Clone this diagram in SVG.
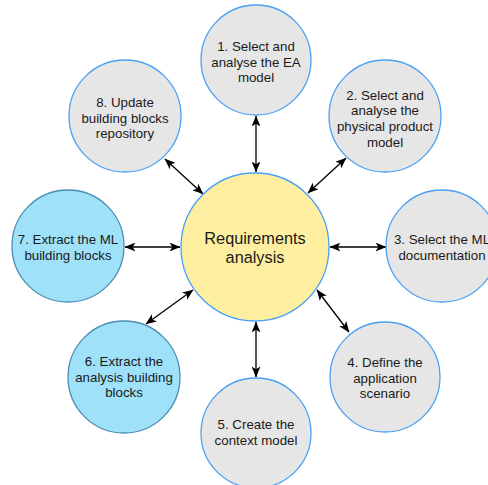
<svg xmlns="http://www.w3.org/2000/svg" width="488" height="485" viewBox="0 0 488 485">
<style>
.n{fill:#e6e6e6;stroke:#4aa0f5;stroke-width:1.3}
.b{fill:#9fe1f8;stroke:#4a8db3;stroke-width:1.3}
.c{fill:#fdef9f;stroke:#4aa0f5;stroke-width:1.3}
text{font-family:"Liberation Sans",Arial,sans-serif;font-size:13.3px;fill:#1a1a1a;text-anchor:middle}
.big{font-size:16.3px}
.e{stroke:#000;stroke-width:1.3;fill:none;marker-start:url(#ah);marker-end:url(#ah)}
</style>
<defs>
<marker id="ah" viewBox="0 0 10 8" refX="9.5" refY="4" markerWidth="11" markerHeight="9" markerUnits="userSpaceOnUse" orient="auto-start-reverse">
<path d="M0,0 L10,4 L0,8 L2.5,4 Z" fill="#000"/>
</marker>
</defs>
<rect width="488" height="485" fill="#fff"/>
<g id="connectors">
<line class="e" x1="256" y1="116" x2="256" y2="172"/>
<line class="e" x1="256" y1="322" x2="256" y2="377"/>
<line class="e" x1="125" y1="247" x2="180" y2="247"/>
<line class="e" x1="330" y1="247" x2="386" y2="247"/>
<line class="e" x1="165" y1="159" x2="203" y2="194"/>
<line class="e" x1="346" y1="158" x2="308" y2="193"/>
<line class="e" x1="317" y1="290" x2="349" y2="332"/>
<line class="e" x1="146" y1="324" x2="193" y2="290"/>
</g>
<g id="center">
<circle class="c" cx="255" cy="247" r="74"/>
<text class="big" x="255" y="244">Requirements</text>
<text class="big" x="255" y="263">analysis</text>
</g>
<g id="node1">
<circle class="n" cx="256" cy="60" r="55"/>
<text x="256" y="51">1. Select and</text>
<text x="256" y="66.5">analyse the EA</text>
<text x="256" y="82">model</text>
</g>
<g id="node2">
<circle class="n" cx="385" cy="116" r="56"/>
<text x="385" y="99.5">2. Select and</text>
<text x="385" y="115">analyse the</text>
<text x="385" y="131">physical product</text>
<text x="385" y="146.5">model</text>
</g>
<g id="node3">
<circle class="n" cx="442" cy="246" r="56"/>
<text x="442" y="244">3. Select the ML</text>
<text x="442" y="259.5">documentation</text>
</g>
<g id="node4">
<circle class="n" cx="385" cy="377" r="55"/>
<text x="385" y="367">4. Define the</text>
<text x="385" y="382.5">application</text>
<text x="385" y="398">scenario</text>
</g>
<g id="node5">
<circle class="n" cx="256" cy="433" r="55"/>
<text x="256" y="429">5. Create the</text>
<text x="256" y="444.5">context model</text>
</g>
<g id="node6">
<circle class="b" cx="124" cy="377" r="56"/>
<text x="124" y="366">6. Extract the</text>
<text x="124" y="381.5">analysis building</text>
<text x="124" y="397">blocks</text>
</g>
<g id="node7">
<circle class="b" cx="68" cy="246" r="56"/>
<text x="68" y="244">7. Extract the ML</text>
<text x="68" y="259.5">building blocks</text>
</g>
<g id="node8">
<circle class="n" cx="125" cy="116" r="56"/>
<text x="125" y="107">8. Update</text>
<text x="125" y="122.5">building blocks</text>
<text x="125" y="138">repository</text>
</g>
</svg>
